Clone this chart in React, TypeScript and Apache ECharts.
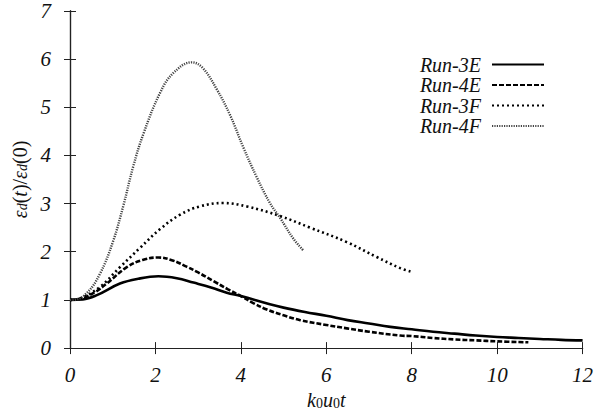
import React, { useEffect, useRef } from "react";
import * as echarts from "echarts";

const xTicks = [0, 2, 4, 6, 8, 10, 12];
const yTicks = [0, 1, 2, 3, 4, 5, 6, 7];
const seriesNames = ["Run-3E", "Run-4E", "Run-3F", "Run-4F"];

const run3E: [number, number][] = [
  [0, 1.0], [0.3, 1.01], [0.63, 1.1], [1.17, 1.34], [1.6, 1.44], [2.07, 1.49],
  [2.5, 1.45], [2.89, 1.36], [3.3, 1.26], [3.67, 1.15], [4.0, 1.08], [4.68, 0.91],
  [5.0, 0.84], [5.5, 0.75], [6.0, 0.67], [6.5, 0.58], [7.0, 0.51], [7.5, 0.44],
  [8.0, 0.39], [8.5, 0.34], [9.0, 0.3], [9.5, 0.26], [10.0, 0.23], [10.5, 0.21],
  [11.0, 0.19], [11.5, 0.17], [12.0, 0.16],
];
const run4E: [number, number][] = [
  [0, 1.0], [0.3, 1.04], [0.6, 1.17], [0.86, 1.34], [1.33, 1.68], [1.7, 1.83],
  [2.07, 1.88], [2.4, 1.82], [2.73, 1.69], [3.0, 1.57], [3.36, 1.39], [3.7, 1.22],
  [4.0, 1.08], [4.3, 0.93], [4.61, 0.8], [5.0, 0.68], [5.39, 0.58], [6.0, 0.48],
  [6.48, 0.41], [7.0, 0.34], [7.73, 0.26], [8.0, 0.25], [8.5, 0.21], [9.0, 0.18],
  [9.5, 0.16], [10.0, 0.14], [10.73, 0.12],
];
const run3F: [number, number][] = [
  [0, 1.0], [0.23, 1.03], [0.7, 1.27], [1.17, 1.68], [1.64, 2.08], [2.11, 2.47],
  [2.58, 2.77], [3.04, 2.94], [3.59, 3.01], [4.14, 2.94], [4.92, 2.74], [5.62, 2.5],
  [6.48, 2.2], [7.18, 1.89], [7.73, 1.66], [8.0, 1.58],
];
const run4F: [number, number][] = [
  [0, 1.0], [0.08, 1.0], [0.39, 1.14], [0.7, 1.54], [1.01, 2.22], [1.25, 2.96],
  [1.48, 3.77], [1.72, 4.45], [2.11, 5.3], [2.42, 5.71], [2.85, 5.93], [3.1, 5.82],
  [3.43, 5.38], [3.75, 4.83], [4.06, 4.16], [4.37, 3.55], [4.68, 3.01], [4.92, 2.7],
  [5.23, 2.27], [5.46, 2.03],
];

const FONT = "Liberation Serif";

export default function App() {
  const ref = useRef<HTMLDivElement>(null);
  useEffect(() => {
    document.body.style.margin = "0";
    if (!ref.current) return;
    const chart = echarts.init(ref.current, null, { renderer: "svg" });
    const axisLine = { show: true, lineStyle: { color: "#222", width: 1.2 } };
    const tick = { show: true, inside: true, length: 6, lineStyle: { color: "#222", width: 1 } };
    const labelStyle = {
      fontFamily: FONT,
      fontStyle: "italic" as const,
      fontSize: 21,
      color: "#111",
    };
    chart.setOption({
      animation: false,
      backgroundColor: "#fff",
      grid: { left: 70, right: 28.4, top: 10.8, bottom: 59, containLabel: false },
      legend: {
        data: seriesNames,
        orient: "vertical",
        right: 61,
        top: 49.5,
        align: "right",
        itemWidth: 52,
        itemHeight: 14,
        itemGap: 0.5,
        itemStyle: { opacity: 0 },
        textStyle: { ...labelStyle, fontSize: 20, lineHeight: 20, padding: [0, 6, 0, 0] },
      },
      xAxis: [
        {
          type: "value",
          min: 0,
          max: 12,
          interval: 2,
          position: "bottom",
          axisLine,
          axisTick: tick,
          splitLine: { show: false },
          axisLabel: {
            ...labelStyle,
            margin: 16,
            formatter: (v: number) => (xTicks.includes(v) ? String(v) : ""),
          },
          name: "{i|k}{s|0}{i|u}{s|0}{i|t}",
          nameLocation: "middle",
          nameGap: 37,
          nameTextStyle: {
            rich: {
              i: { fontFamily: FONT, fontStyle: "italic", fontSize: 20, color: "#111", lineHeight: 22, verticalAlign: "bottom" },
              s: { fontFamily: FONT, fontSize: 14, color: "#111", lineHeight: 14, verticalAlign: "bottom" },
            },
          },
        },
        {
          type: "value",
          min: 0,
          max: 12,
          interval: 2,
          position: "top",
          axisLine,
          axisTick: tick,
          axisLabel: { show: false },
          splitLine: { show: false },
        },
      ],
      yAxis: [
        {
          type: "value",
          min: 0,
          max: 7,
          interval: 1,
          position: "left",
          axisLine,
          axisTick: tick,
          splitLine: { show: false },
          axisLabel: {
            ...labelStyle,
            margin: 19,
            formatter: (v: number) => (yTicks.includes(v) ? String(v) : ""),
          },
          name: "{e|ε}{s|d}{n|(}{i|t}{n|)/}{e|ε}{s|d}{n|(0)}",
          nameLocation: "middle",
          nameRotate: 90,
          nameGap: 34,
          nameTextStyle: {
            rich: {
              e: { fontFamily: FONT, fontStyle: "italic", fontSize: 20, color: "#111", lineHeight: 22, verticalAlign: "bottom" },
              i: { fontFamily: FONT, fontStyle: "italic", fontSize: 20, color: "#111", lineHeight: 22, verticalAlign: "bottom" },
              n: { fontFamily: FONT, fontSize: 20, color: "#111", lineHeight: 22, verticalAlign: "bottom" },
              s: { fontFamily: FONT, fontStyle: "italic", fontSize: 14, color: "#111", lineHeight: 14, verticalAlign: "bottom" },
            },
          },
        },
        {
          type: "value",
          min: 0,
          max: 7,
          interval: 1,
          position: "right",
          axisLine,
          axisTick: tick,
          axisLabel: { show: false },
          splitLine: { show: false },
        },
      ],
      series: [
        {
          name: "Run-3E",
          type: "line",
          data: run3E,
          showSymbol: false,
          symbol: "none",
          smooth: 0.4,
          lineStyle: { color: "#000", width: 2.6, type: "solid" },
          itemStyle: { color: "#000" },
        },
        {
          name: "Run-4E",
          type: "line",
          data: run4E,
          showSymbol: false,
          symbol: "none",
          smooth: 0.4,
          lineStyle: { color: "#000", width: 2.6, type: [5, 2] },
          itemStyle: { color: "#000" },
        },
        {
          name: "Run-3F",
          type: "line",
          data: run3F,
          showSymbol: false,
          symbol: "none",
          smooth: 0.4,
          lineStyle: { color: "#000", width: 2.6, type: [2, 3] },
          itemStyle: { color: "#000" },
        },
        {
          name: "Run-4F",
          type: "line",
          data: run4F,
          showSymbol: false,
          symbol: "none",
          smooth: 0.4,
          lineStyle: { color: "#444", width: 2.4, type: [1.2, 1.2] },
          itemStyle: { color: "#444" },
        },
      ],
    });
    return () => chart.dispose();
  }, []);
  return <div ref={ref} style={{ width: 611, height: 415 }} />;
}
